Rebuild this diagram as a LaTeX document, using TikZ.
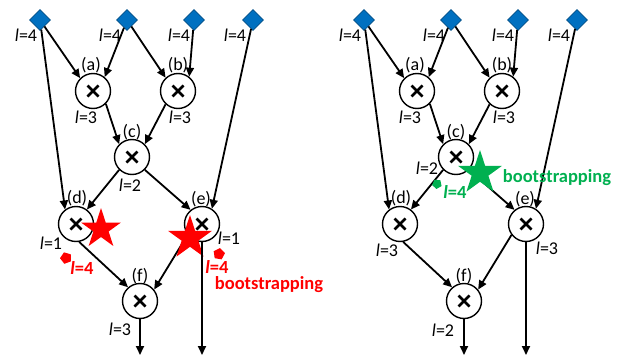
\documentclass[tikz,border=0pt]{standalone}
\usepackage{fontspec}
\setmainfont{Carlito}
\usetikzlibrary{shapes.geometric,arrows.meta}
\definecolor{inblue}{HTML}{0070C0}
\definecolor{bsred}{HTML}{FF0000}
\definecolor{bsgreen}{HTML}{00B050}
\newcommand{\lev}[1]{\textit{l}=#1}

% inputs, multiplication nodes and wires of one circuit
\newcommand{\circuitbase}[2]{%
 \begin{scope}[xshift=#2pt]
  \node[inp] (#1i1) at (40,20) {};
  \node[inp] (#1i2) at (127,20) {};
  \node[inp] (#1i3) at (194,20) {};
  \node[inp] (#1i4) at (253,20) {};
  \node[mul] (#1a) at (93,91) {};
  \node[mul] (#1b) at (178,91) {};
  \node[mul] (#1c) at (132,157) {};
  \node[mul] (#1d) at (76,224) {};
  \node[mul] (#1e) at (202,224) {};
  \node[mul] (#1f) at (140,301) {};
  \coordinate (#1fo) at (140,355);
  \coordinate (#1eo) at (202,355);
  \node[lab] (#1l1) at (26,35) {\lev{4}};
  \node[lab] (#1l2) at (110,35) {\lev{4}};
  \node[lab] (#1l3) at (179,35) {\lev{4}};
  \node[lab] (#1l4) at (235,35) {\lev{4}};
  \node[lab] (#1na) at (91,65) {(a)};
  \node[lab] (#1nb) at (178,65) {(b)};
  \node[lab] (#1nc) at (132,132) {(c)};
  \node[lab] (#1nd) at (77,198) {(d)};
  \node[lab] (#1ne) at (201,199) {(e)};
  \node[lab] (#1nf) at (140,276) {(f)};
  \node[lab] (#1la) at (86,117) {\lev{3}};
  \node[lab] (#1lb) at (180,117) {\lev{3}};
  \draw[wire] (#1i1) -- (#1a.135);
  \draw[wire] (#1i1) -- (#1d.127);
  \draw[wire] (#1i2) -- (#1a.50);
  \draw[wire] (#1i2) -- (#1b.133);
  \draw[wire] (#1i3) -- (#1b.52);
  \draw[wire] (#1i4) -- (#1e.57);
  \draw[wire] (#1a.-45) -- (#1c.135);
  \draw[wire] (#1b.-133) -- (#1c.45);
  \draw[wire] (#1c.-135) -- (#1d.53);
  \draw[wire] (#1c.-45) -- (#1e.129);
  \draw[wire] (#1d.-80) -- (#1f.131);
  \draw[wire] (#1e.-143) -- (#1f.39);
 \end{scope}}

% multiplication signs and output wires, drawn over the stars
\newcommand{\circuittop}[1]{%
  \foreach \m in {a,b,c,d,e,f}
    \draw[cross] (#1\m.center) +(-5.5,-5.5) -- +(5.5,5.5) +(-5.5,5.5) -- +(5.5,-5.5);
  \draw[wire] (#1f.south) -- (#1fo);
  \draw[wire] (#1e.south) -- (#1eo);
}

\begin{document}
\begin{tikzpicture}[x=1pt,y=-1pt,
  lab/.style={font=\fontsize{18}{20}\selectfont, inner sep=0pt},
  hot/.style={font=\fontsize{18.5}{20}\selectfont\bfseries, inner sep=0pt},
  inp/.style={diamond, fill=inblue, draw=inblue!70!black, line width=0.6pt,
    minimum size=21pt, inner sep=0pt},
  mul/.style={circle, draw, fill=white, line width=1.4pt, minimum size=35pt, inner sep=0pt},
  wire/.style={line width=1.8pt, -{Triangle[length=9pt,width=8pt]}},
  cross/.style={line width=2.8pt},
  bigstar/.style={star, star points=5, star point ratio=2.618, inner sep=0pt, draw=none},
  tick/.style={regular polygon, regular polygon sides=5, inner sep=0pt, minimum size=12pt, draw=none},
]
\useasboundingbox (0,0) rectangle (624,356);

% left circuit: bootstrapping after (d) and (e)
\circuitbase{L}{0}
\node[lab] (Llc) at (130,185) {\lev{2}};
\node[lab] (Lld) at (51,243) {\lev{1}};
\node[lab] (Lle) at (229,238) {\lev{1}};
\node[lab] (Llf) at (120,329) {\lev{3}};
\node[bigstar, fill=bsred, minimum size=42pt] (Ls1) at (101,229) {};
\node[bigstar, fill=bsred, minimum size=46pt] (Ls2) at (190,238) {};
\node[tick, fill=bsred, rotate=20] (Lt1) at (66,258) {};
\node[tick, fill=bsred, rotate=-10] (Lt2) at (219,254) {};
\node[hot, text=bsred] (Lr1) at (82,268) {\textit{l}=4};
\node[hot, text=bsred] (Lr2) at (217,267) {\textit{l}=4};
\node[hot, text=bsred] (Lbs) at (269,285) {bootstrapping};
\circuittop{L}

% right circuit: a single bootstrapping after (c)
\circuitbase{R}{324}
\node[lab] (Rlc) at (427,168) {\lev{2}};
\node[lab] (Rld) at (387,250) {\lev{3}};
\node[lab] (Rle) at (547,248) {\lev{3}};
\node[lab] (Rlf) at (443,330) {\lev{2}};
\node[bigstar, fill=bsgreen, minimum size=46pt] (Rs1) at (480,173) {};
\node[tick, fill=bsgreen, rotate=30, minimum size=10pt] (Rt1) at (437,184) {};
\node[hot, text=bsgreen] (Rg1) at (455,192) {\textit{l}=4};
\node[hot, text=bsgreen] (Rbs) at (557,178) {bootstrapping};
\circuittop{R}
\end{tikzpicture}
\end{document}
